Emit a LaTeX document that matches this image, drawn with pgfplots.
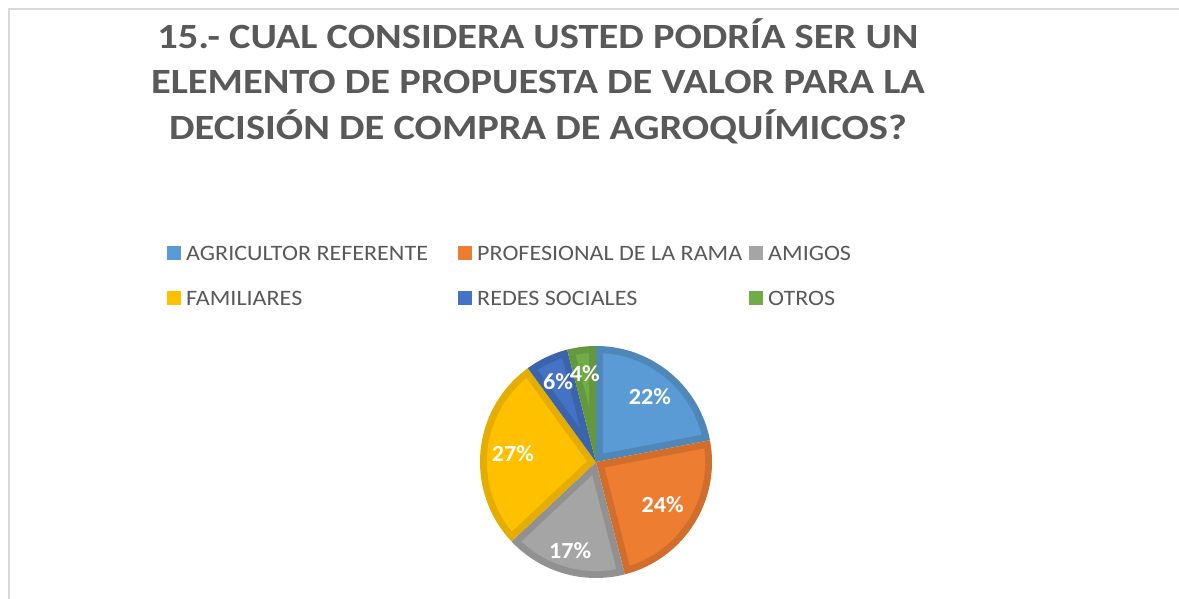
\documentclass[border=0pt]{standalone}
\usepackage{pgfplots}
\pgfplotsset{compat=1.18}
\usepackage{fontspec}
\setmainfont{Carlito}
\definecolor{cA}{HTML}{5B9BD5}
\definecolor{cB}{HTML}{ED7D31}
\definecolor{cC}{HTML}{A5A5A5}
\definecolor{cD}{HTML}{FFC000}
\definecolor{cE}{HTML}{4472C4}
\definecolor{cF}{HTML}{70AD47}
\colorlet{dA}{cA!87!black}
\colorlet{dB}{cB!88!black}
\colorlet{dC}{cC!88!black}
\colorlet{dD}{cD!90!black}
\colorlet{dE}{cE!88!black}
\colorlet{dF}{cF!88!black}
\definecolor{txt}{HTML}{595959}
\definecolor{framec}{HTML}{D9D9D9}
\def\dd{0.06}
% #1 cumulative percent before slice, #2 value (percent), #3 colour suffix, #4 label radius
\newcommand\slice[4]{%
  \pgfmathsetmacro\tA{90-3.6*(#1+#2)}%
  \pgfmathsetmacro\tB{90-3.6*#1}%
  \pgfmathsetmacro\tH{1.8*#2}%
  \pgfmathsetmacro\tM{90-3.6*(#1+#2/2)}%
  \pgfmathsetmacro\ap{\dd/sin(\tH)}%
  \pgfmathsetmacro\apx{\ap*cos(\tM)}%
  \pgfmathsetmacro\apy{\ap*sin(\tM)}%
  \pgfmathsetmacro\del{asin(\dd/(1-\dd))}%
  \pgfmathsetmacro\iA{\tA+\del}%
  \pgfmathsetmacro\iB{\tB-\del}%
  \pgfmathsetmacro\lx{#4*cos(\tM)}%
  \pgfmathsetmacro\ly{#4*sin(\tM)}%
  \edef\doit{%
    \noexpand\addplot[fill=d#3, draw=none, domain=\tA:\tB, samples=90, variable=\noexpand\t]
      ({cos(\noexpand\t)},{sin(\noexpand\t)}) -- (axis cs:0,0) -- cycle;
    \noexpand\addplot[fill=c#3, draw=none, domain=\iA:\iB, samples=90, variable=\noexpand\t]
      ({(1-\dd)*cos(\noexpand\t)},{(1-\dd)*sin(\noexpand\t)}) -- (axis cs:\apx,\apy) -- cycle;
    \noexpand\node[text=white, font=\noexpand\fontsize{23}{26}\noexpand\selectfont\noexpand\bfseries\noexpand\addfontfeatures{FakeStretch=1.05}] at (axis cs:\lx,\ly) {#2\noexpand\%};
  }%
  \doit
}
\begin{document}
\begin{tikzpicture}
\useasboundingbox (0pt,0pt) rectangle (1179pt,599pt);
\fill[white] (0pt,0pt) rectangle (1179pt,599pt);
\draw[framec, line width=1.5pt] (9pt,0pt) -- (9pt,590pt) -- (1179pt,590pt);
\node[text=txt, align=center, font=\fontsize{35.5}{45.5}\selectfont\bfseries\addfontfeatures{FakeStretch=1.14}] at (538pt,518pt)
  {15.- CUAL CONSIDERA USTED PODRÍA SER UN\\ELEMENTO DE PROPUESTA DE VALOR PARA LA\\DECISIÓN DE COMPRA DE AGROQUÍMICOS?};
% legend
\foreach \c/\x/\y/\t in {cA/167/346/AGRICULTOR REFERENTE, cB/458/346/PROFESIONAL DE LA RAMA, cC/749/346/AMIGOS,
                         cD/167/301/FAMILIARES, cE/458/301/REDES SOCIALES, cF/749/301/OTROS}{
  \fill[\c] (\x pt,\y pt-7pt) rectangle ++(14pt,14pt);
  \node[text=txt, anchor=west, inner sep=0pt, font=\fontsize{22}{24}\selectfont\addfontfeatures{FakeStretch=1.095}] at (\x pt+19pt,\y pt-3pt) {\strut\t};
}
\begin{axis}[
  at={(596pt,137pt)}, anchor=center,
  x=116pt, y=116pt,
  xmin=-1.1, xmax=1.1, ymin=-1.1, ymax=1.1,
  hide axis, clip=false]
\slice{0}{22}{A}{0.73}
\slice{22}{24}{B}{0.68}
\slice{46}{17}{C}{0.80}
\slice{63}{27}{D}{0.72}
\slice{90}{6}{E}{0.77}
\slice{96}{4}{F}{0.77}
\end{axis}
\end{tikzpicture}
\end{document}
